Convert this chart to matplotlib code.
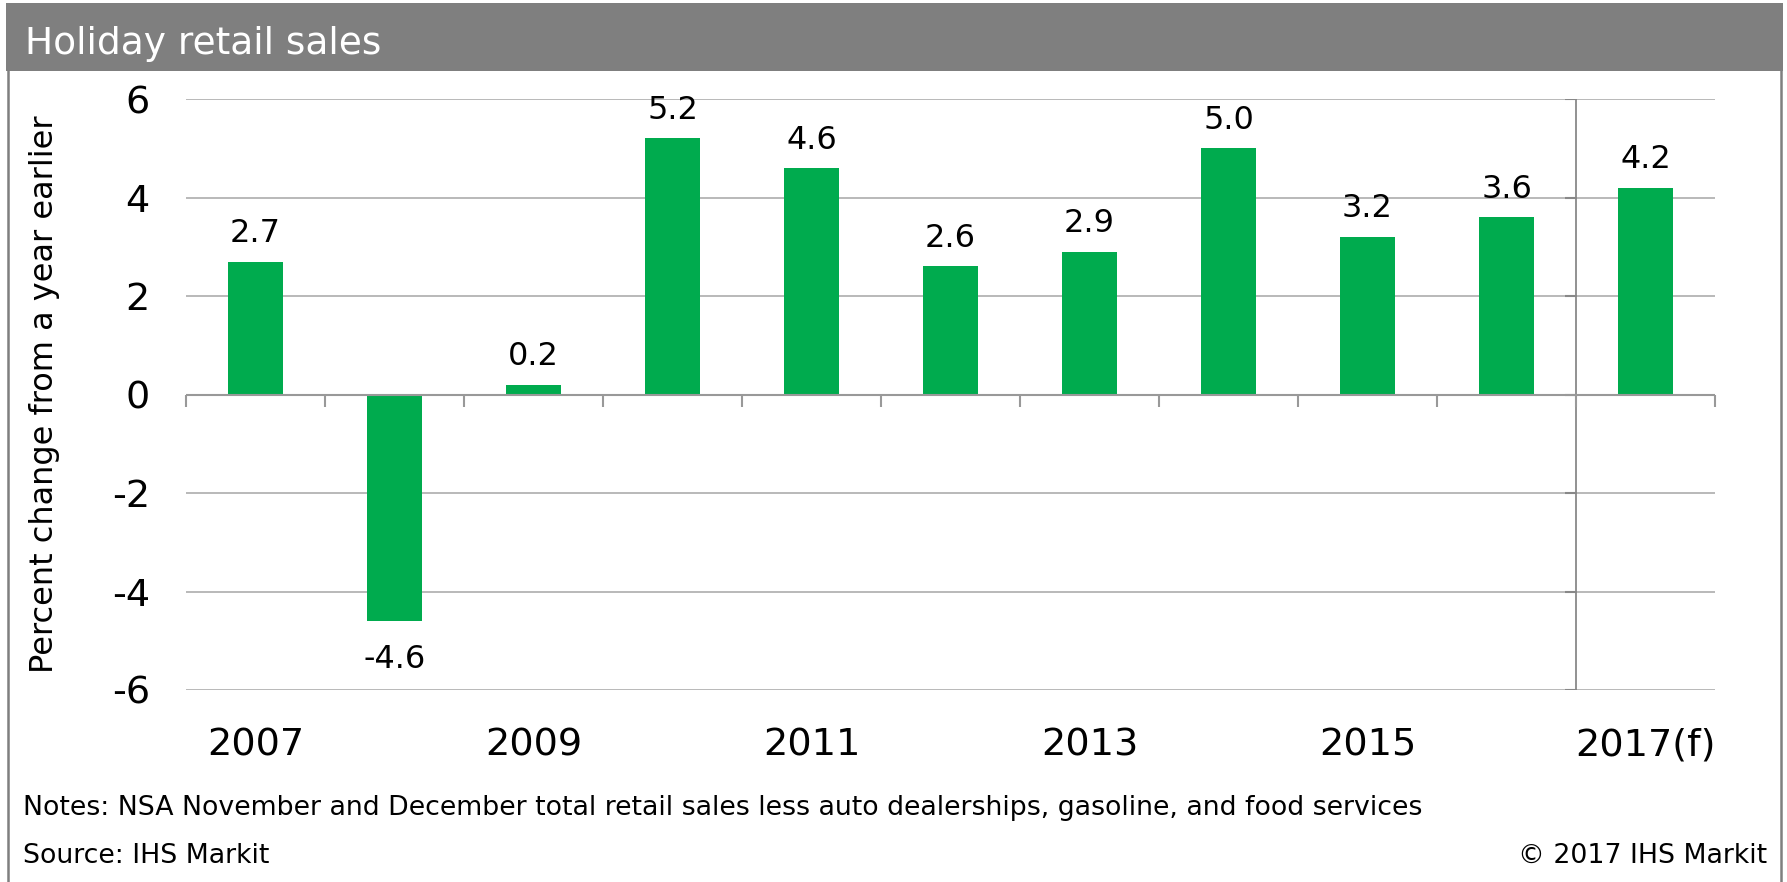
import matplotlib.pyplot as plt
from matplotlib.patches import Rectangle
from matplotlib.lines import Line2D

# Data
years = ['2007', '2008', '2009', '2010', '2011', '2012', '2013', '2014', '2015', '2016', '2017(f)']
changes = [2.7, -4.6, 0.2, 5.2, 4.6, 2.6, 2.9, 5.0, 3.2, 3.6, 4.2]
y_ticks = [-6, -4, -2, 0, 2, 4, 6]

W, H = 1787, 882
green = '#00AB4E'
grey = '#7F7F7F'
grid_grey = '#B3B3B3'

fig = plt.figure(figsize=(W / 100, H / 100), dpi=100)
plt.rcParams['font.family'] = ['DejaVu Sans']

# frame and title bar
fig.patches.append(Rectangle((6 / W, 1 - 71 / H), (1783 - 6) / W, (71 - 3) / H,
                             transform=fig.transFigure, facecolor=grey, edgecolor='none'))
for xpx in (8, 1781):
    fig.lines.append(Line2D([xpx / W, xpx / W], [0, 1 - 70 / H], transform=fig.transFigure,
                            color=grey, lw=1.8))
fig.text(25 / W, 1 - 54 / H, 'Holiday retail sales', color='white', fontsize=27,
         ha='left', va='baseline')

# axes
left, right, top, bottom = 186, 1715, 99, 690
ax = fig.add_axes([left / W, 1 - bottom / H, (right - left) / W, (bottom - top) / H])
x = list(range(len(years)))
ax.bar(x, changes, width=0.39, color=green, zorder=3)
ax.set_xlim(-0.5, len(years) - 0.5)
ax.set_ylim(-6, 6)
for s in ax.spines.values():
    s.set_visible(False)

ax.set_yticks(y_ticks)
ax.set_yticklabels([str(v) for v in y_ticks])
ax.yaxis.grid(True, color=grid_grey, lw=1.3, zorder=0)
ax.tick_params(axis='y', length=0, pad=26, labelsize=27.5)

ax.set_xticks(x[::2])
ax.set_xticklabels(years[::2])
ax.tick_params(axis='x', length=0, pad=27, labelsize=27.5)

ax.axhline(0, color='#999999', lw=1.5, zorder=4)
# category boundary ticks under the zero line
bounds = [i - 0.5 for i in range(len(years) + 1)]
ax.vlines(bounds, -0.25, 0, color='#999999', lw=1.5, zorder=4, clip_on=False)
# forecast separator
ax.vlines(len(years) - 1.5, -6, 6, color=grey, lw=1.2, zorder=2)
ax.hlines(y_ticks, len(years) - 1.58, len(years) - 1.5, color='#888888', lw=1.5, zorder=2)

ax.set_ylabel('Percent change from a year earlier', fontsize=23)
ax.yaxis.set_label_coords(-(left - 60) / (right - left), 0.5)

for xi, v in zip(x, changes):
    if v >= 0:
        ax.annotate(f'{v:.1f}', (xi, v), xytext=(0, 14), textcoords='offset points',
                    ha='center', va='baseline', fontsize=23)
    else:
        ax.annotate(f'{v:.1f}', (xi, v), xytext=(0, -34), textcoords='offset points',
                    ha='center', va='baseline', fontsize=23)

fs_note = 19.3
fig.text(23 / W, 1 - 815 / H,
         'Notes: NSA November and December total retail sales less auto dealerships, gasoline, and food services',
         fontsize=fs_note, ha='left', va='baseline')
fig.text(23 / W, 1 - 863 / H, 'Source: IHS Markit', fontsize=fs_note, ha='left', va='baseline')
fig.text(1767 / W, 1 - 863 / H, '\u00a9 2017 IHS Markit', fontsize=fs_note, ha='right', va='baseline')

fig.savefig('out.png', dpi=100)
